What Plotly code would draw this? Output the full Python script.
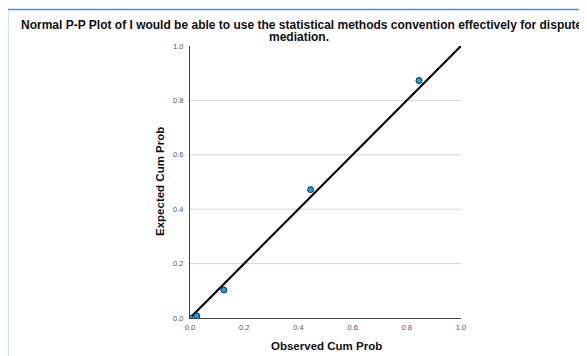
import plotly.graph_objects as go

# Data
observed = [0.0, 0.025, 0.125, 0.445, 0.845]
expected = [0.0, 0.008, 0.103, 0.472, 0.873]
ref_line_x = [0.0, 1.0]
ref_line_y = [0.0, 1.0]
tick_vals = [0.0, 0.2, 0.4, 0.6, 0.8, 1.0]
tick_text = ["0.0", "0.2", "0.4", "0.6", "0.8", "1.0"]
grid_vals = [0.2, 0.4, 0.6, 0.8]

title_line1 = "Normal P-P Plot of I would be able to use the statistical methods convention effectively for dispute"
title_line2 = "mediation."

# page body adds an 8px offset; work in target-screen pixels and subtract it
OFF = 8
W, H = 587, 356
L = 190 - OFF
T = 46 - OFF
R = W - (461 - OFF)
B = H - (318 - OFF)
pw, ph = W - L - R, H - T - B

def px_to_paper_x(px):
    return (px - OFF - L) / pw

def px_to_paper_y(py):
    return (H - B - (py - OFF)) / ph

font_family = "Liberation Sans, Arial, sans-serif"

fig = go.Figure()
fig.add_trace(go.Scatter(x=ref_line_x, y=ref_line_y, mode="lines",
                         line=dict(color="black", width=2.2), hoverinfo="skip"))
fig.add_trace(go.Scatter(x=observed, y=expected, mode="markers",
                         marker=dict(color="#1a9ee8", size=6,
                                     line=dict(color="#1b2a3a", width=1))))

shapes = []
for g in grid_vals:
    shapes.append(dict(type="line", xref="x", yref="y", x0=0, x1=1, y0=g, y1=g,
                       line=dict(color="#d4d4d4", width=1), layer="below"))
# outer blue frame
shapes.append(dict(type="rect", xref="paper", yref="paper",
                   x0=px_to_paper_x(7.5), x1=px_to_paper_x(700),
                   y0=px_to_paper_y(500), y1=px_to_paper_y(9.5),
                   line=dict(color="#5a8ee0", width=1.5), layer="below"))

title_font = dict(family=font_family, size=12, color="#111")
annotations = [
    dict(text="<b>" + title_line1 + "</b>", xref="paper", yref="paper",
         x=px_to_paper_x(302), y=px_to_paper_y(25.5), xanchor="center", yanchor="middle",
         showarrow=False, font=title_font),
    dict(text="<b>" + title_line2 + "</b>", xref="paper", yref="paper",
         x=px_to_paper_x(299), y=px_to_paper_y(36.5), xanchor="center", yanchor="middle",
         showarrow=False, font=title_font),
    dict(text="<b>Expected Cum Prob</b>", xref="paper", yref="paper",
         x=px_to_paper_x(160), y=px_to_paper_y(182), xanchor="center", yanchor="middle",
         textangle=-90, showarrow=False, font=dict(family=font_family, size=11.5, color="#111")),
    dict(text="<b>Observed Cum Prob</b>", xref="paper", yref="paper",
         x=px_to_paper_x(326), y=px_to_paper_y(346), xanchor="center", yanchor="middle",
         showarrow=False, font=dict(family=font_family, size=11.5, color="#111")),
]

fig.update_layout(
    width=W, height=H,
    margin=dict(l=L, r=R, t=T, b=B, pad=0),
    paper_bgcolor="white", plot_bgcolor="white",
    showlegend=False,
    shapes=shapes,
    annotations=annotations,
    font=dict(family=font_family),
)
fig.update_xaxes(range=[0, 1], tickvals=tick_vals, ticktext=tick_text, showgrid=False,
                 zeroline=False, showline=True, linecolor="#444", linewidth=1,
                 ticks="", tickfont=dict(size=7.5, color="#555"), ticklabelstandoff=2)
fig.update_yaxes(range=[0, 1], tickvals=tick_vals, ticktext=tick_text, showgrid=False,
                 zeroline=False, showline=True, linecolor="#444", linewidth=1,
                 ticks="", tickfont=dict(size=7.5, color="#555"), ticklabelstandoff=4)

fig.write_html("out.html")
